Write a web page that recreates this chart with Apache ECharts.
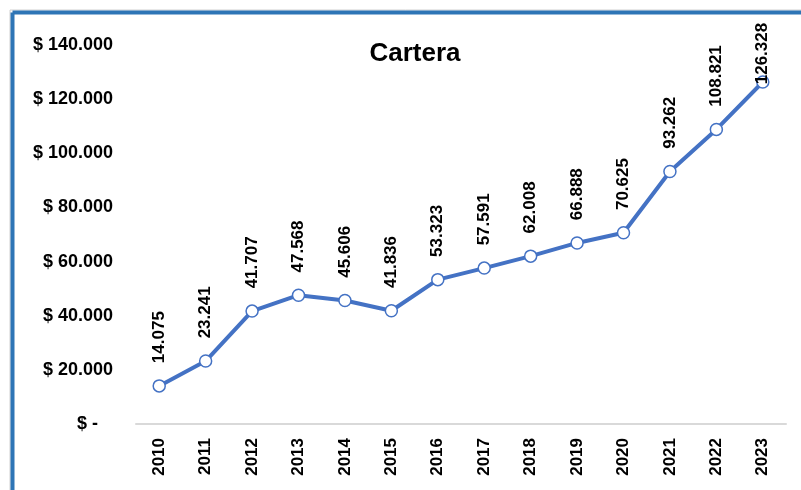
<!DOCTYPE html>
<html>
<head>
<meta charset="utf-8">
<script src="https://cdn.jsdelivr.net/npm/echarts@6/dist/echarts.min.js"></script>
<style>
  html, body { margin: 0; padding: 0; background: #fff; }
  #chart { width: 801px; height: 490px; }
</style>
</head>
<body>
<div id="chart"></div>
<script>
const years = ['2010', '2011', '2012', '2013', '2014', '2015', '2016', '2017', '2018', '2019', '2020', '2021', '2022', '2023']
const cartera = [14075, 23241, 41707, 47568, 45606, 41836, 53323, 57591, 62008, 66888, 70625, 93262, 108821, 126328]

const fmt = v => v.toLocaleString('de-DE')

// last label is squeezed down into the plot, like the original
const seriesData = cartera.map((v, i) =>
  i === cartera.length - 1 ? { value: v, label: { distance: -9 } } : v
)

const chart = echarts.init(document.getElementById('chart'))
chart.setOption({
  animation: false,
  title: {
    text: 'Cartera',
    left: 410,
    top: 36,
    textAlign: 'center',
    textStyle: { fontFamily: 'Liberation Sans', fontWeight: 'bold', fontSize: 26, color: '#000' },
  },
  // frame lines of the chart area
  graphic: [
    { type: 'line', shape: { x1: 10, y1: 10, x2: 801, y2: 10 }, style: { stroke: '#d0d0d0', lineWidth: 1 } },
    { type: 'line', shape: { x1: 10, y1: 10, x2: 10, y2: 490 }, style: { stroke: '#d0d0d0', lineWidth: 1 } },
    { type: 'line', shape: { x1: 12.5, y1: 12.5, x2: 801, y2: 12.5 }, style: { stroke: '#2E75B6', lineWidth: 4 } },
    { type: 'line', shape: { x1: 12.5, y1: 12.5, x2: 12.5, y2: 490 }, style: { stroke: '#2E75B6', lineWidth: 4 } },
  ],
  grid: { left: 136, right: 15, top: 45, bottom: 66 },
  xAxis: {
    type: 'category',
    data: years,
    axisLine: { lineStyle: { color: '#d9d9d9', width: 2 } },
    axisTick: { show: false },
    axisLabel: {
      rotate: 90,
      margin: 14,
      fontFamily: 'Liberation Sans',
      fontWeight: 'bold',
      fontSize: 17,
      color: '#000',
    },
  },
  yAxis: {
    type: 'value',
    min: 0,
    max: 140000,
    interval: 20000,
    splitLine: { show: false },
    axisLine: { show: false },
    axisTick: { show: false },
    axisLabel: {
      margin: 23,
      fontFamily: 'Liberation Sans',
      fontWeight: 'bold',
      fontSize: 18,
      color: '#000',
      formatter: v => (v === 0 ? '$ -   ' : '$ ' + fmt(v)),
    },
  },
  series: [
    {
      type: 'line',
      data: seriesData,
      symbol: 'circle',
      symbolSize: 12,
      lineStyle: { color: '#4472C4', width: 4 },
      itemStyle: { color: '#fff', borderColor: '#4472C4', borderWidth: 1.5 },
      label: {
        show: true,
        position: 'top',
        rotate: 90,
        align: 'left',
        verticalAlign: 'middle',
        distance: 16,
        fontFamily: 'Liberation Sans',
        fontWeight: 'bold',
        fontSize: 17,
        color: '#000',
        formatter: p => fmt(p.value),
      },
    },
  ],
})
</script>
</body>
</html>
